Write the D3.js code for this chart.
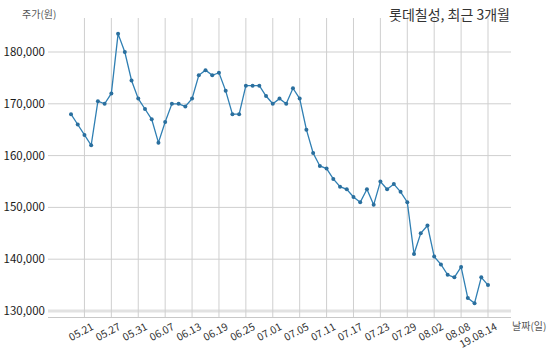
<!DOCTYPE html>
<html>
<head>
<meta charset="utf-8">
<script src="https://cdn.jsdelivr.net/npm/d3@7"></script>
<style>
  body { margin: 0; background: #fff; }
  text { font-family: "Noto Sans CJK KR", "Noto Sans", sans-serif; }
</style>
</head>
<body>
<div id="chart"></div>
<script>
// trading days, 2019.05.17 ~ 2019.08.14
const dates = [
  "05.17","05.20","05.21","05.22","05.23","05.24","05.27","05.28","05.29","05.30","05.31",
  "06.03","06.04","06.05","06.07","06.10","06.11","06.12","06.13","06.14","06.17","06.18",
  "06.19","06.20","06.21","06.24","06.25","06.26","06.27","06.28","07.01","07.02","07.03",
  "07.04","07.05","07.08","07.09","07.10","07.11","07.12","07.15","07.16","07.17","07.18",
  "07.19","07.22","07.23","07.24","07.25","07.26","07.29","07.30","07.31","08.01","08.02",
  "08.05","08.06","08.07","08.08","08.09","08.12","08.13","08.14"
];

const prices = [
  168000,166000,164000,162000,170500,170000,172000,183500,180000,174500,171000,
  169000,167000,162500,166500,170000,170000,169500,171000,175500,176500,175500,
  176000,172500,168000,168000,173500,173500,173500,171500,170000,171000,170000,
  173000,171000,165000,160500,158000,157500,155500,154000,153500,152000,151000,
  153500,150500,155000,153500,154500,153000,151000,141000,145000,146500,140500,
  139000,137000,136500,138500,132500,131500,136500,135000
];

const tickDates = ["05.21","05.27","05.31","06.07","06.13","06.19","06.25","07.01",
  "07.05","07.11","07.17","07.23","07.29","08.02","08.08","08.14"];
const tickLabels = ["05.21","05.27","05.31","06.07","06.13","06.19","06.25","07.01",
  "07.05","07.11","07.17","07.23","07.29","08.02","08.08","19.08.14"];
const yTicks = [130000,140000,150000,160000,170000,180000];

const width = 550, height = 352;
const plotLeft = 48, plotRight = 511, plotTop = 18, plotBottom = 317;

const svg = d3.select("#chart")
  .append("svg")
    .attr("width", width)
    .attr("height", height);

const x = d3.scalePoint().domain(dates).range([71, 488]);
const y = d3.scaleLinear().domain([130000, 180000]).range([311, 52]);

/// horizontal grid
svg.append("g")
  .selectAll("line")
  .data(yTicks)
  .join("line")
    .attr("x1", plotLeft)
    .attr("x2", plotRight)
    .attr("y1", d => y(d))
    .attr("y2", d => y(d))
    .attr("stroke", d => d === 130000 ? "#e2e2e2" : "#cfcfcf")
    .attr("stroke-width", d => d === 130000 ? 3 : 1);

/// vertical grid
svg.append("g")
  .selectAll("line")
  .data(tickDates)
  .join("line")
    .attr("x1", d => x(d))
    .attr("x2", d => x(d))
    .attr("y1", plotTop)
    .attr("y2", plotBottom)
    .attr("stroke", "#cfcfcf")
    .attr("stroke-width", 1);

/// x axis baseline
svg.append("line")
  .attr("x1", plotLeft)
  .attr("x2", plotRight)
  .attr("y1", plotBottom + 0.5)
  .attr("y2", plotBottom + 0.5)
  .attr("stroke", "#c8c8c8");

/// y tick labels
svg.append("g")
  .selectAll("text")
  .data(yTicks)
  .join("text")
    .attr("x", 45)
    .attr("y", d => y(d) + 4)
    .attr("text-anchor", "end")
    .style("font-size", "11.5px")
    .style("fill", "#1a1a1a")
    .text(d => d3.format(",")(d));

/// x tick labels (rotated)
svg.append("g")
  .selectAll("text")
  .data(tickDates)
  .join("text")
    .attr("text-anchor", "end")
    .attr("transform", d => `translate(${x(d) + 10},${329}) rotate(-28)`)
    .style("font-size", "10.5px")
    .style("fill", "#333")
    .text((d, i) => tickLabels[i]);

/// axis titles
svg.append("text")
  .attr("x", 22).attr("y", 18)
  .style("font-size", "10px").style("fill", "#555")
  .text("주가(원)");

svg.append("text")
  .attr("x", 512).attr("y", 330)
  .style("font-size", "10px").style("fill", "#555")
  .text("날짜(일)");

svg.append("text")
  .attr("x", 510).attr("y", 20)
  .attr("text-anchor", "end")
  .style("font-size", "14px").style("fill", "#333")
  .text("롯데칠성, 최근 3개월");

/// price line
const line = d3.line()
  .x((d, i) => x(dates[i]))
  .y(d => y(d));

svg.append("path")
  .datum(prices)
  .attr("fill", "none")
  .attr("stroke", "#2f7fb3")
  .attr("stroke-width", 1.3)
  .attr("d", line);

svg.append("g")
  .selectAll("circle")
  .data(prices)
  .join("circle")
    .attr("cx", (d, i) => x(dates[i]))
    .attr("cy", d => y(d))
    .attr("r", 2)
    .attr("fill", "#2a6f9e");
</script>
</body>
</html>
